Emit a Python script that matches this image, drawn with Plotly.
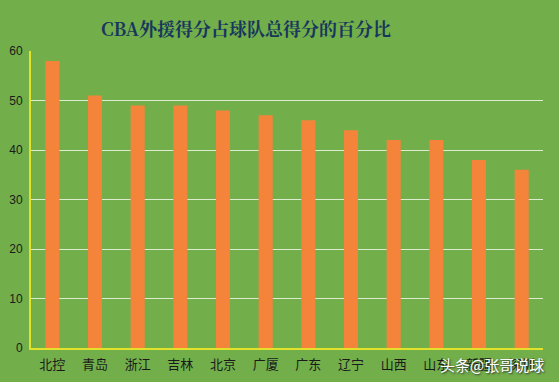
import plotly.graph_objects as go

teams = ["北控", "青岛", "浙江", "吉林", "北京", "广厦", "广东", "辽宁", "山西", "山东", "新疆", "深圳"]
pct = [58, 51, 49, 49, 48, 47, 46, 44, 42, 42, 38, 36]
y_ticks = [0, 10, 20, 30, 40, 50, 60]

fig = go.Figure()
fig.add_trace(go.Bar(
    x=teams, y=pct, width=0.33,
    marker=dict(color="#F3843A", line=dict(width=0)),
))

fig.update_layout(
    width=559, height=382,
    margin=dict(l=31, r=16, t=51, b=34),
    paper_bgcolor="#72AE4A",
    plot_bgcolor="#72AE4A",
    showlegend=False,
    title=dict(
        text="<b>CBA外援得分占球队总得分的百分比</b>",
        x=0.44, xanchor="center", y=0.921, yanchor="middle",
        font=dict(family="Noto Serif CJK SC, Noto Sans CJK SC", size=18, color="#17365D"),
    ),
    xaxis=dict(
        showline=True, linecolor="#E2E22A", linewidth=2,
        tickfont=dict(family="Noto Sans CJK SC", size=13, color="#1A1A1A"),
        ticks="", showgrid=False, ticklabelstandoff=3, automargin=False,
    ),
    yaxis=dict(
        range=[0, 60], tickvals=y_ticks,
        showline=True, linecolor="#E2E22A", linewidth=2,
        showgrid=True, gridcolor="#DDEBCF", gridwidth=1,
        tickfont=dict(family="Liberation Sans", size=12, color="#1A1A1A"),
        ticks="", zeroline=False, ticklabelstandoff=4, automargin=False,
    ),
    annotations=[dict(
        text="头条@张哥说球", xref="paper", yref="paper",
        x=1.005, y=-0.057, xanchor="right", yanchor="middle", showarrow=False,
        font=dict(family="Noto Sans CJK SC", size=15, color="white", shadow="1px 1px 2px #333"),
    )],
)

fig.write_html("out.html")
